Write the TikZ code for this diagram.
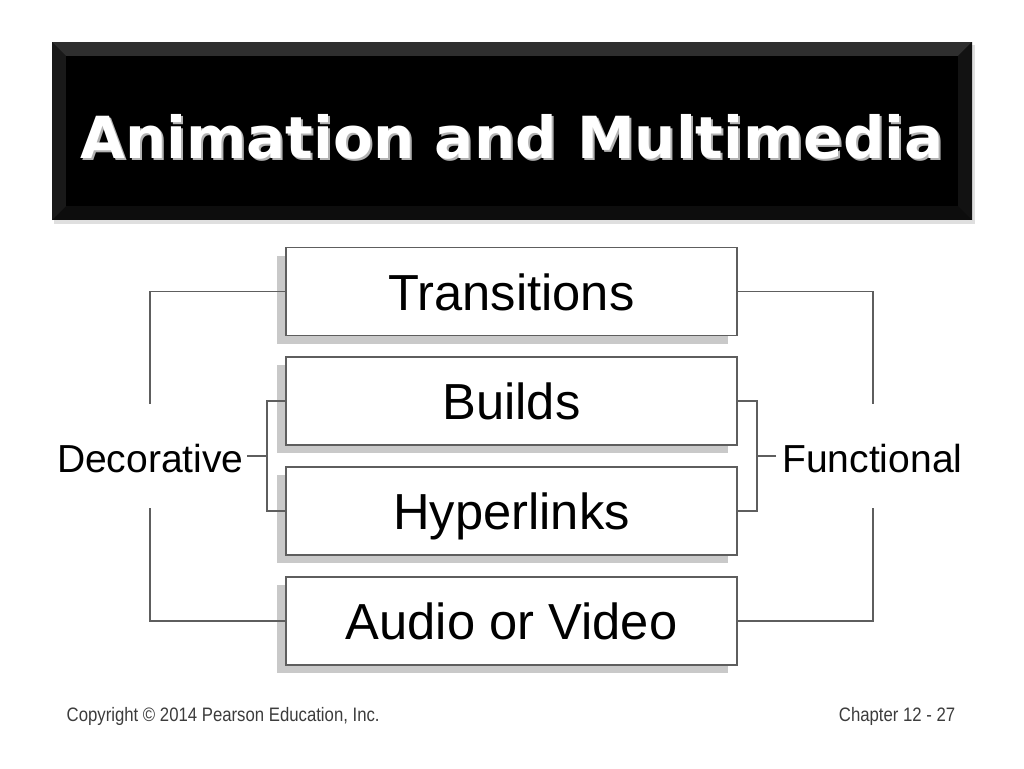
\documentclass[tikz,border=0pt]{standalone}
\usepackage{fontspec}
\setmainfont{Liberation Sans}
\newfontfamily\titlefont{DejaVu Sans}
\newfontfamily\footfont[FakeStretch=0.86]{Liberation Sans}
\usetikzlibrary{shadows}
\definecolor{linegray}{HTML}{5E5E5E}
\definecolor{shadegray}{HTML}{C9C9C9}
\definecolor{footgray}{HTML}{3C3C3C}

\begin{document}
\begin{tikzpicture}[x=0.75pt,y=-0.75pt,
    item/.style={draw=linegray,line width=1.1pt,fill=white,minimum width=338pt,minimum height=66pt,inner sep=0pt,
        font=\fontsize{38}{44}\selectfont,text height=28pt,text depth=0pt,
        drop shadow={shadow xshift=-6.75pt,shadow yshift=-6pt,fill=shadegray,draw=none,opacity=1}},
    side/.style={font=\fontsize{29.3}{34}\selectfont,inner sep=0pt},
    link/.style={draw=linegray,line width=1.1pt},
    foot/.style={text=footgray,font=\footfont\fontsize{14.6}{17}\selectfont}]
    \useasboundingbox (0,0) rectangle (1024,768);

    % title bar
    \fill[gray!25] (54,45) rectangle (975,224);
    \fill[black!95] (52,42) rectangle (972,220);
    \fill[black!82] (52,42) -- (972,42) -- (958,56) -- (66,56) -- cycle;
    \fill[black!90] (52,42) -- (66,56) -- (66,206) -- (52,220) -- cycle;
    \fill[black!93] (972,42) -- (958,56) -- (958,206) -- (972,220) -- cycle;
    \fill[black] (66,56) rectangle (958,206);
    \node[text=gray!60,font=\titlefont\bfseries\fontsize{43.5}{50}\selectfont] at (514,139) {Animation and Multimedia};
    \node[text=white,font=\titlefont\bfseries\fontsize{43.5}{50}\selectfont] (title) at (512,137) {Animation and Multimedia};

    % boxes
    \node[item] (trans) at (511.5,291.5) {Transitions};
    \node[item] (builds) at (511.5,401) {Builds};
    \node[item] (hyper) at (511.5,511) {Hyperlinks};
    \node[item] (audio) at (511.5,621) {Audio or Video};

    % side labels
    \node[side,anchor=east] (deco) at (244,459) {Decorative};
    \node[side,anchor=west] (func) at (782,459) {Functional};

    \coordinate (decoTop) at (150,404);
    \coordinate (decoBot) at (150,508);
    \coordinate (decoIn) at (267,456);
    \coordinate (funcTop) at (873,404);
    \coordinate (funcBot) at (873,508);
    \coordinate (funcIn) at (757,456);

    \draw[link] (trans.west) -| (decoTop);
    \draw[link] (audio.west) -| (decoBot);
    \draw[link] (builds.west) -| (decoIn) |- (hyper.west);
    \draw[link] (deco.east) ++(3,-3) -- (decoIn);
    \draw[link] (trans.east) -| (funcTop);
    \draw[link] (audio.east) -| (funcBot);
    \draw[link] (builds.east) -| (funcIn) |- (hyper.east);
    \draw[link] (func.west) ++(-6,-3) -- (funcIn);

    % footer
    \node[foot,anchor=west] (copy) at (62,716) {Copyright © 2014 Pearson Education, Inc.};
    \node[foot,anchor=east] (chap) at (960,716) {Chapter 12 - 27};
\end{tikzpicture}
\end{document}
